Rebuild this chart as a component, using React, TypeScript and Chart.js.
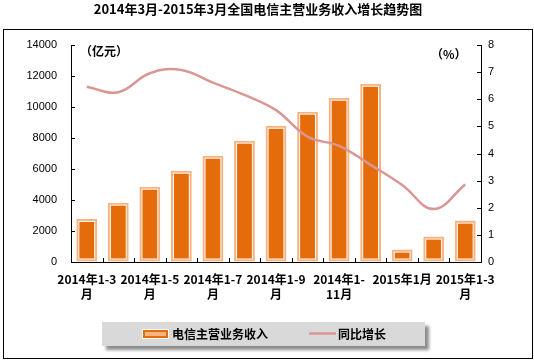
import React, { useEffect, useRef } from 'react';
import { Chart, registerables } from 'chart.js';

Chart.register(...registerables);

const categories = [
  '2014年1-3月', '2014年1-4月', '2014年1-5月', '2014年1-6月', '2014年1-7月',
  '2014年1-8月', '2014年1-9月', '2014年1-10月', '2014年1-11月', '2014年1-12月',
  '2015年1月', '2015年1-2月', '2015年1-3月',
];
const tickLabels: (string | string[])[] = [
  ['2014年1-3', '月'], '', ['2014年1-5', '月'], '', ['2014年1-7', '月'], '',
  ['2014年1-9', '月'], '', ['2014年1-', '11月'], '', '2015年1月', '', ['2015年1-3', '月'],
];
const revenue = [2780, 3830, 4860, 5890, 6860, 7830, 8790, 9700, 10600, 11500, 800, 1640, 2670];
const growth = [6.46, 6.26, 6.96, 7.08, 6.61, 6.16, 5.6, 4.62, 4.28, 3.58, 2.84, 1.95, 2.86];
const revenueName = '电信主营业务收入';
const growthName = '同比增长';
const title = '2014年3月-2015年3月全国电信主营业务收入增长趋势图';
const leftUnit = '（亿元）';
const rightUnit = '（%）';

const ORANGE = '#E46C0A';
const LIGHT = '#F6B483';
const LINE = '#D99694';
const CJK = '"Noto Sans CJK SC", "Noto Sans", sans-serif';
const NUM = '"Liberation Sans", Arial, sans-serif';

const decorPlugin = {
  id: 'decor',
  beforeDraw(chart: any) {
    const ctx = chart.ctx;
    ctx.save();
    ctx.fillStyle = '#FFFFFF';
    ctx.fillRect(0, 0, chart.width, chart.height);
    ctx.restore();
  },
  afterDatasetDraw(chart: any, args: any) {
    if (args.index !== 0) return;
    const ctx = chart.ctx;
    const meta = chart.getDatasetMeta(0);
    ctx.save();
    ctx.strokeStyle = '#FFFFFF';
    ctx.lineWidth = 1;
    meta.data.forEach((el: any) => {
      const p = el.getProps(['x', 'y', 'base', 'width'], true);
      const l = p.x - p.width / 2;
      const t = Math.min(p.y, p.base);
      const b = Math.max(p.y, p.base);
      ctx.strokeRect(l + 2.5, t + 2.5, p.width - 5, b - t - 5);
    });
    ctx.restore();
  },
  afterDraw(chart: any) {
    const ctx = chart.ctx;
    const area = chart.chartArea;
    const ys = chart.scales.y;
    const y1 = chart.scales.y1;
    const xs = chart.scales.x;
    ctx.save();
    // outer border
    ctx.strokeStyle = '#000000';
    ctx.lineWidth = 1;
    ctx.strokeRect(3.5, 29.5, 529, 329);
    // inward ticks
    ctx.beginPath();
    ys.ticks.forEach((t: any) => {
      const py = Math.round(ys.getPixelForValue(t.value)) + 0.5;
      ctx.moveTo(area.left, py);
      ctx.lineTo(area.left + 4, py);
    });
    y1.ticks.forEach((t: any) => {
      const py = Math.round(y1.getPixelForValue(t.value)) + 0.5;
      ctx.moveTo(area.right, py);
      ctx.lineTo(area.right - 4, py);
    });
    for (let i = 0; i < categories.length - 1; i++) {
      const px = Math.round((xs.getPixelForValue(i) + xs.getPixelForValue(i + 1)) / 2) + 0.5;
      ctx.moveTo(px, area.bottom);
      ctx.lineTo(px, area.bottom - 4);
    }
    ctx.stroke();
    // title
    ctx.fillStyle = '#000000';
    ctx.font = `bold 13px ${CJK}`;
    ctx.textAlign = 'center';
    ctx.textBaseline = 'middle';
    ctx.fillText(title, 258, 9);
    // units
    ctx.font = `bold 12px ${CJK}`;
    ctx.textAlign = 'left';
    ctx.fillText(leftUnit, 80, 51);
    ctx.fillText(rightUnit, 431, 54);
    // legend
    ctx.save();
    ctx.shadowColor = 'rgba(0,0,0,0.45)';
    ctx.shadowBlur = 3;
    ctx.shadowOffsetX = 4;
    ctx.shadowOffsetY = 4;
    ctx.fillStyle = '#D9D9D9';
    ctx.fillRect(102, 322, 323, 24);
    ctx.restore();
    ctx.fillStyle = '#FFFFFF';
    ctx.fillRect(142, 329, 27, 10);
    ctx.strokeStyle = ORANGE;
    ctx.lineWidth = 2;
    ctx.strokeRect(144, 331, 23, 6);
    ctx.fillStyle = LIGHT;
    ctx.fillRect(145, 332, 21, 4);
    ctx.fillStyle = '#000000';
    ctx.font = `bold 12px ${CJK}`;
    ctx.textBaseline = 'middle';
    ctx.fillText(revenueName, 172, 334);
    ctx.strokeStyle = LINE;
    ctx.lineWidth = 2.5;
    ctx.beginPath();
    ctx.moveTo(309, 333.5);
    ctx.lineTo(336, 333.5);
    ctx.stroke();
    ctx.fillText(growthName, 338, 334);
    ctx.restore();
  },
};

export default function App() {
  const ref = useRef<HTMLCanvasElement | null>(null);
  useEffect(() => {
    document.body.style.margin = '0';
    const canvas = ref.current;
    if (!canvas) return;
    const chart = new Chart(canvas, {
      type: 'bar',
      data: {
        labels: categories,
        datasets: [
          {
            type: 'bar',
            label: revenueName,
            data: revenue,
            backgroundColor: ORANGE,
            borderColor: LIGHT,
            borderWidth: 2,
            borderSkipped: false,
            barPercentage: 0.66,
            categoryPercentage: 1,
            yAxisID: 'y',
            order: 1,
          } as any,
          {
            type: 'line',
            label: growthName,
            data: growth,
            borderColor: LINE,
            borderWidth: 2.5,
            pointRadius: 0,
            tension: 0.4,
            fill: false,
            yAxisID: 'y1',
            order: 0,
          } as any,
        ],
      },
      options: {
        responsive: false,
        animation: false,
        devicePixelRatio: 1,
        layout: { padding: { top: 45, left: 0, right: 0, bottom: 0 } },
        plugins: {
          legend: { display: false },
          title: { display: false },
          tooltip: { enabled: false },
        },
        scales: {
          x: {
            offset: true,
            grid: { display: true, drawOnChartArea: false, drawTicks: false },
            border: { display: true, color: '#000000', width: 1 },
            ticks: {
              autoSkip: false,
              maxRotation: 0,
              minRotation: 0,
              padding: 10,
              color: '#000000',
              font: { family: CJK, size: 12, weight: 'bold', lineHeight: 1.25 },
              callback: (_v: any, i: number) => tickLabels[i],
            },
            afterFit: (s: any) => { s.height = 98; },
          },
          y: {
            position: 'left',
            min: 0,
            max: 14000,
            grid: { display: true, drawOnChartArea: false, drawTicks: false },
            border: { display: true, color: '#000000', width: 1 },
            ticks: {
              stepSize: 2000,
              padding: 14,
              color: '#000000',
              font: { family: NUM, size: 11 },
              callback: (v: any) => String(v),
            },
            afterFit: (s: any) => { s.width = 71; },
          },
          y1: {
            position: 'right',
            min: 0,
            max: 8,
            grid: { display: true, drawOnChartArea: false, drawTicks: false },
            border: { display: true, color: '#000000', width: 1 },
            ticks: {
              stepSize: 1,
              padding: 7,
              color: '#000000',
              font: { family: NUM, size: 11 },
              callback: (v: any) => String(v),
            },
            afterFit: (s: any) => { s.width = 53; },
          },
        },
      } as any,
      plugins: [decorPlugin],
    });
    return () => chart.destroy();
  }, []);
  return (
    <div style={{ position: 'relative', width: 534, height: 360 }}>
      <canvas ref={ref} width={534} height={360} style={{ width: 534, height: 360, display: 'block' }} />
    </div>
  );
}
